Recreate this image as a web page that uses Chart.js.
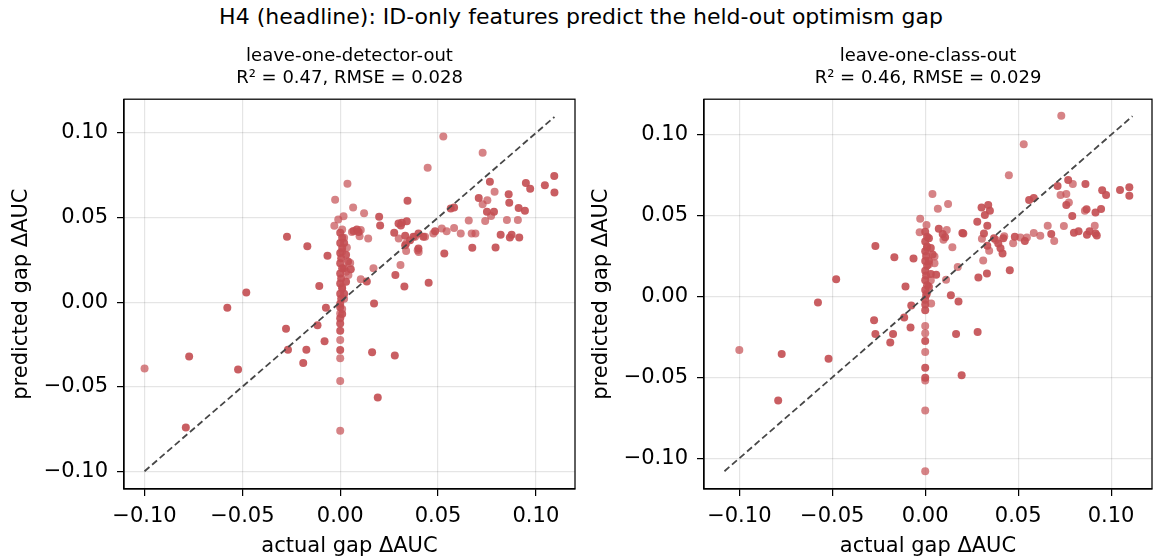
<!DOCTYPE html>
<html>
<head>
<meta charset="utf-8">
<script src="https://cdn.jsdelivr.net/npm/chart.js@4.4.1/dist/chart.umd.min.js"></script>
<style>
  html, body { margin: 0; padding: 0; background: #fff; }
  #fig { position: relative; width: 1156px; height: 559px; overflow: hidden; }
  #suptitle {
    position: absolute; left: 0; top: 4px; width: 1162px; text-align: center;
    font-family: "DejaVu Sans", sans-serif; font-size: 22px; color: #000;
  }
  canvas { position: absolute; top: 0; }
  #ldo { left: 0; }
  #lco { left: 580px; }
</style>
</head>
<body>
<div id="fig">
  <div id="suptitle">H4 (headline): ID-only features predict the held-out optimism gap</div>
  <canvas id="ldo" width="580" height="559"></canvas>
  <canvas id="lco" width="576" height="559"></canvas>
</div>
<script>
const TICK_VALUES = [-0.1, -0.05, 0, 0.05, 0.1];
const TICK_LABELS = ["\u22120.10", "\u22120.05", "0.00", "0.05", "0.10"];

// leave-one-detector-out: [actual, predicted]
const ldoTitle = ["leave-one-detector-out", "R\u00b2 = 0.47, RMSE = 0.028"];
const ldoLimits = [-0.1105, 0.12];
const ldoDiagonal = [-0.1, 0.1095];
const ldoDark = [
  [-0.0789, -0.0741], [-0.0772, -0.0321], [-0.0577, -0.0033], [-0.048, 0.0057], [-0.0522, -0.0399],
  [-0.0272, 0.0386], [-0.0168, 0.0331], [-0.0065, 0.0274], [-0.0107, 0.0095], [-0.0073, -0.0033],
  [-0.0116, -0.0136], [-0.0277, -0.0157], [-0.0267, -0.0281], [-0.0173, -0.0281], [-0.0189, -0.036],
  [-0.008, -0.0232],
  [0.0199, 0.0505], [0.0204, 0.0453], [0.0068, 0.0421], [0.0085, 0.0429], [0.0094, 0.0415],
  [0.0054, 0.0195], [0.0136, 0.0122], [0.0173, -0.0008], [0.0163, -0.0297], [0.0279, -0.0315],
  [0.0192, -0.0564], [0.0282, 0.016], [0.0328, 0.0092], [0.0452, 0.0114], [0.0532, 0.0287],
  [0.0276, 0.041], [0.0298, 0.0465], [0.0315, 0.0469], [0.034, 0.0478], [0.031, 0.0453],
  [0.0344, 0.06], [0.0332, 0.0393], [0.0357, 0.0366], [0.0374, 0.0386], [0.04, 0.0406],
  [0.0425, 0.0386], [0.04, 0.0317], [0.0332, 0.0337], [0.0485, 0.0419], [0.0565, 0.0553],
  [0.0582, 0.0559], [0.0675, 0.0321], [0.0708, 0.0616], [0.0765, 0.0712], [0.075, 0.0534],
  [0.0786, 0.0534], [0.082, 0.0398], [0.0794, 0.0323], [0.0861, 0.0638], [0.0864, 0.0587],
  [0.0867, 0.0382], [0.0876, 0.0398], [0.0915, 0.0382], [0.0912, 0.0557], [0.0944, 0.054],
  [0.0949, 0.0705], [0.0971, 0.0671], [0.1046, 0.0691], [0.1094, 0.0746], [0.1095, 0.0649],
  [0.0, 0.041], [0.001, 0.038], [0.0, 0.035], [0.001, 0.032], [0.0, 0.029], [0.0005, 0.026],
  [0.0, 0.023], [0.001, 0.02], [0.0, 0.017], [0.0005, 0.014], [0.0, 0.011], [0.001, 0.008],
  [0.0, 0.005], [0.0005, 0.002], [0.0, -0.001], [0.0, -0.003], [0.0, -0.0096], [0.0, -0.0126],
  [0.0, -0.0169], [0.0, -0.0283], [0.002, 0.035], [0.003, 0.028], [0.002, 0.02], [0.003, 0.012],
  [0.002, 0.005], [0.004, 0.024], [0.001, -0.007]
];
const ldoLight = [
  [-0.1, -0.0393], [-0.0026, 0.0605], [-0.003, 0.0451], [-0.001, 0.0488], [0.0037, 0.07],
  [0.0017, 0.0508], [0.0066, 0.0559], [0.0122, 0.0525], [0.0105, 0.0427], [0.006, 0.0415],
  [0.0099, 0.039], [0.0143, 0.0376], [0.0034, 0.0323], [0.0051, 0.0232], [0.0042, 0.016],
  [0.017, 0.02], [0.0105, 0.0136], [0.0308, 0.022], [0.0299, 0.0376], [0.0337, 0.0347],
  [0.0337, 0.0303], [0.0401, 0.0297], [0.0396, 0.0307], [0.0383, 0.0386], [0.0434, 0.0386],
  [0.0476, 0.0406], [0.0519, 0.0435], [0.0544, 0.0419], [0.0582, 0.0439], [0.0616, 0.0406],
  [0.0447, 0.0795], [0.0527, 0.098], [0.0728, 0.0884], [0.0657, 0.0482], [0.0691, 0.0406],
  [0.0728, 0.0579], [0.0752, 0.0602], [0.0789, 0.0652], [0.0771, 0.051], [0.0741, 0.048],
  [0.0852, 0.0486], [0.0908, 0.0486], [0.0672, 0.0406],
  [0.0, -0.0067], [0.0, -0.0224], [0.0, -0.0332], [0.0, -0.0466], [0.0, -0.0761],
  [0.001, 0.043], [0.002, 0.038], [0.001, 0.03], [0.003, 0.018], [0.001, 0.009], [0.002, 0.002],
  [0.001, -0.004]
];

// leave-one-class-out: [actual, predicted]
const lcoTitle = ["leave-one-class-out", "R\u00b2 = 0.46, RMSE = 0.029"];
const lcoLimits = [-0.119, 0.122];
const lcoDiagonal = [-0.108, 0.1115];
const lcoDark = [
  [-0.0791, -0.0643], [-0.0772, -0.0355], [-0.0577, -0.0037], [-0.0479, 0.0107], [-0.052, -0.0384],
  [-0.0268, 0.0312], [-0.0166, 0.0243], [-0.0063, 0.0235], [-0.0106, 0.0062], [-0.0075, -0.0056],
  [-0.0113, -0.013], [-0.0079, -0.0192], [-0.0275, -0.0147], [-0.0268, -0.0232], [-0.0173, -0.0232],
  [-0.0188, -0.0285],
  [0.0073, 0.0419], [0.0094, 0.0386], [0.0107, 0.0367], [0.02, 0.0392], [0.0205, 0.039],
  [0.0059, 0.0134], [0.0138, 0.0008], [0.0179, -0.0031], [0.0166, -0.0232], [0.0282, -0.0219],
  [0.0196, -0.0486], [0.0286, 0.0118], [0.0332, 0.0142], [0.0455, 0.0163], [0.028, 0.0462],
  [0.0303, 0.0551], [0.0339, 0.0566], [0.0348, 0.053], [0.0321, 0.0504], [0.0334, 0.0437],
  [0.0316, 0.039], [0.0334, 0.0314], [0.037, 0.0361], [0.0393, 0.0328], [0.0405, 0.0299],
  [0.0416, 0.0266], [0.042, 0.0361], [0.0482, 0.0369], [0.0536, 0.0344], [0.0678, 0.0386],
  [0.0559, 0.0597], [0.0584, 0.0609], [0.0712, 0.0683], [0.0769, 0.0721], [0.0759, 0.0566],
  [0.0791, 0.0498], [0.08, 0.0394], [0.0825, 0.0403], [0.0862, 0.0696], [0.0868, 0.0539],
  [0.0916, 0.052], [0.0946, 0.0541], [0.087, 0.0382], [0.0884, 0.0403], [0.0916, 0.039],
  [0.0923, 0.0378], [0.0952, 0.0657], [0.0973, 0.0628], [0.1048, 0.0659], [0.1098, 0.0675],
  [0.1098, 0.0623],
  [0.0, 0.04], [0.001, 0.037], [0.0, 0.034], [0.001, 0.031], [0.0, 0.028], [0.0005, 0.025],
  [0.0, 0.022], [0.001, 0.019], [0.0, 0.016], [0.0005, 0.013], [0.0, 0.01], [0.001, 0.007],
  [0.0, 0.004], [0.0005, 0.001], [0.0, -0.002], [0.0, -0.005], [0.0, -0.0085], [0.0, -0.0275],
  [0.0, -0.044], [0.0, -0.0502], [0.002, 0.036], [0.003, 0.03], [0.002, 0.022], [0.004, 0.026],
  [0.003, 0.014], [0.002, 0.006]
];
const lcoLight = [
  [-0.1, -0.0331], [-0.0027, 0.0481], [-0.003, 0.0397], [0.0007, 0.0442], [0.0039, 0.0634],
  [0.0068, 0.0543], [0.0123, 0.0572], [0.0116, 0.0411], [0.0098, 0.0351], [0.0146, 0.0305],
  [0.005, 0.0248], [0.005, 0.0205], [0.0112, 0.0103], [0.0175, 0.0183], [0.0032, -0.0043],
  [0.0312, 0.0223], [0.0305, 0.0357], [0.0344, 0.0283], [0.0425, 0.0373], [0.0473, 0.033],
  [0.0512, 0.0365], [0.0547, 0.0365], [0.0584, 0.0392], [0.0619, 0.0375], [0.0659, 0.0437],
  [0.0694, 0.0344], [0.045, 0.075], [0.053, 0.0942], [0.0732, 0.1117], [0.0728, 0.0628],
  [0.0759, 0.0634], [0.0794, 0.0696], [0.0773, 0.0582], [0.0746, 0.0436], [0.0859, 0.053],
  [0.0912, 0.0437], [0.038, 0.035],
  [0.0, -0.108], [0.0, -0.0704], [0.0, -0.0519], [0.0, -0.0343], [0.0, -0.0227], [0.0, -0.0182],
  [0.001, 0.03], [0.002, 0.02], [0.003, 0.01], [0.001, 0.002]
];

const FONT = "DejaVu Sans";
const DOT_LIGHT = "rgba(196, 78, 82, 0.7)";
const DOT_DARK = "rgba(196, 78, 82, 0.91)";

Chart.defaults.font.family = FONT;
Chart.defaults.color = "#000";

const spinesPlugin = {
  id: "spines",
  afterDraw(chart) {
    const { ctx, chartArea } = chart;
    ctx.save();
    ctx.strokeStyle = "#000";
    ctx.lineWidth = 1.25;
    ctx.strokeRect(chartArea.left, chartArea.top, chartArea.right - chartArea.left, chartArea.bottom - chartArea.top);
    ctx.restore();
  }
};

function toPoints(pairs) {
  return pairs.map(([x, y]) => ({ x, y }));
}

function axisOptions(limits, label, isX) {
  return {
    type: "linear",
    min: limits[0],
    max: limits[1],
    afterBuildTicks(scale) {
      scale.ticks = TICK_VALUES.map((value) => ({ value }));
    },
    afterFit(scale) {
      if (isX) {
        scale.height = 70;
      } else {
        scale.width = 124;
      }
    },
    ticks: {
      autoSkip: false,
      maxRotation: 0,
      padding: isX ? 8 : 9,
      font: { size: 21 },
      color: "#000",
      callback: (value) => {
        const idx = TICK_VALUES.findIndex((v) => Math.abs(v - value) < 1e-9);
        return idx >= 0 ? TICK_LABELS[idx] : "";
      }
    },
    grid: {
      color: "rgba(0, 0, 0, 0.1)",
      lineWidth: 1.2,
      tickColor: "#000",
      tickLength: 7,
      tickWidth: 1.25
    },
    border: { color: "#000", width: 1.25 },
    title: {
      display: true,
      text: label,
      font: { size: 21 },
      color: "#000",
      padding: isX ? { top: 0, bottom: 0 } : { top: 9, bottom: 0 }
    }
  };
}

function renderPanel(canvasId, title, limits, diagonal, dark, light, rightPad) {
  const ctx = document.getElementById(canvasId);
  return new Chart(ctx, {
    type: "scatter",
    data: {
      datasets: [
        {
          type: "line",
          data: [{ x: diagonal[0], y: diagonal[0] }, { x: diagonal[1], y: diagonal[1] }],
          borderColor: "#474747",
          borderWidth: 1.8,
          borderDash: [6.5, 3.5],
          pointRadius: 0,
          fill: false,
          order: 0
        },
        {
          data: toPoints(light),
          backgroundColor: DOT_LIGHT,
          borderWidth: 0,
          pointRadius: 4,
          order: 2
        },
        {
          data: toPoints(dark),
          backgroundColor: DOT_DARK,
          borderWidth: 0,
          pointRadius: 4,
          order: 1
        }
      ]
    },
    options: {
      responsive: false,
      animation: false,
      devicePixelRatio: 1,
      layout: { padding: { top: 46, right: rightPad, bottom: 0, left: 0 } },
      plugins: {
        legend: { display: false },
        tooltip: { enabled: false },
        title: {
          display: true,
          text: title,
          fullSize: false,
          color: "#000",
          font: { size: 18, weight: "normal" },
          padding: { top: 0, bottom: 10 }
        }
      },
      scales: {
        x: axisOptions(limits, "actual gap \u0394AUC", true),
        y: axisOptions(limits, "predicted gap \u0394AUC", false)
      }
    },
    plugins: [spinesPlugin]
  });
}

renderPanel("ldo", ldoTitle, ldoLimits, ldoDiagonal, ldoDark, ldoLight, 5);
renderPanel("lco", lcoTitle, lcoLimits, lcoDiagonal, lcoDark, lcoLight, 2);
</script>
</body>
</html>
